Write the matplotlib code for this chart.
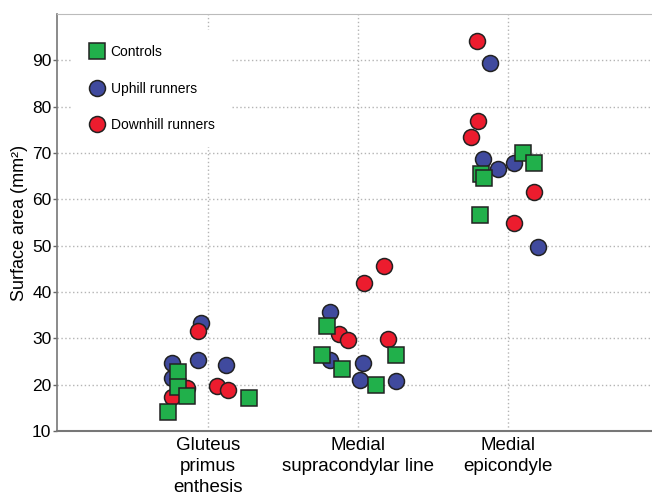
import numpy as np
import matplotlib.pyplot as plt

plt.rcParams['font.family'] = ['Liberation Sans', 'DejaVu Sans']

# sites along the x axis
sites = ["Gluteus\nprimus\nenthesis", "Medial\nsupracondylar line", "Medial\nepicondyle"]

# surface area (mm2) per site, 5 individuals per group
controls = [[22.7, 19.5, 17.5, 14.1, 17.1],
            [32.6, 26.4, 26.4, 23.4, 19.9],
            [65.4, 64.5, 70.1, 67.8, 56.6]]
uphill = [[33.3, 24.7, 25.3, 24.2, 21.4],
          [35.6, 25.3, 24.6, 21.0, 20.8],
          [89.5, 68.8, 66.5, 67.8, 49.7]]
downhill = [[31.5, 19.3, 17.3, 19.7, 18.9],
            [45.6, 41.9, 30.9, 29.6, 29.8],
            [94.1, 76.8, 73.4, 61.5, 54.8]]

# horizontal jitter of each point (category units)
controls_jit = [[-0.20, -0.20, -0.14, -0.27, 0.27],
                [-0.21, -0.24, 0.25, -0.11, 0.12],
                [-0.18, -0.16, 0.10, 0.17, -0.19]]
uphill_jit = [[-0.05, -0.24, -0.07, 0.12, -0.24],
              [-0.19, -0.19, 0.03, 0.01, 0.25],
              [-0.12, -0.17, -0.07, 0.04, 0.20]]
downhill_jit = [[-0.07, -0.14, -0.24, 0.06, 0.13],
                [0.17, 0.04, -0.13, -0.07, 0.20],
                [-0.21, -0.20, -0.25, 0.17, 0.04]]

groups = [("Controls", controls, controls_jit, 's', '#21b04b', 5),
          ("Uphill runners", uphill, uphill_jit, 'o', '#404a9e', 3),
          ("Downhill runners", downhill, downhill_jit, 'o', '#ec1c2e', 4)]

fig = plt.figure(figsize=(6.52, 4.98), dpi=100)
ax = fig.add_axes([57 / 652, 67 / 498, 1 - 57 / 652, 417 / 498])

for name, vals, jit, mk, col, z in groups:
    xs = []
    ys = []
    for i in range(len(sites)):
        xs += list(i + 1 + np.array(jit[i]))
        ys += vals[i]
    ax.plot(xs, ys, linestyle='none', marker=mk, markersize=11.5,
            markerfacecolor=col, markeredgecolor='#222222', markeredgewidth=1.1,
            zorder=z, label=name)

ax.set_xlim(-0.007, 3.96)
ax.set_ylim(10, 100)
ax.set_xticks([1, 2, 3], labels=sites)
ax.set_yticks(np.arange(10, 100, 10))
ax.tick_params(axis='x', length=0, pad=4, labelsize=13.5)
ax.tick_params(axis='y', length=3, width=1, color='#666666', pad=1, labelsize=12.5)
for lbl in ax.get_xticklabels():
    lbl.set_linespacing(1.32)

ax.grid(True, linestyle=(0, (1, 1.8)), color='#b4b4b4', linewidth=1.0)
ax.set_axisbelow(True)

ax.spines['right'].set_visible(False)
ax.spines['top'].set_color('#bbbbbb')
ax.spines['left'].set_color('#777777')
ax.spines['bottom'].set_color('#777777')
ax.spines['left'].set_linewidth(1.2)
ax.spines['bottom'].set_linewidth(1.5)

ax.set_ylabel("Surface area (mm²)", fontsize=13, labelpad=3)

leg = ax.legend(loc='upper left', bbox_to_anchor=(0.027, 0.962), borderaxespad=0,
                fontsize=10, frameon=True, fancybox=False, framealpha=1,
                edgecolor='none', facecolor='white', numpoints=1,
                handlelength=1.2, handletextpad=0.4, labelspacing=1.62,
                borderpad=1.1)

fig.savefig("out.png", dpi=100)
